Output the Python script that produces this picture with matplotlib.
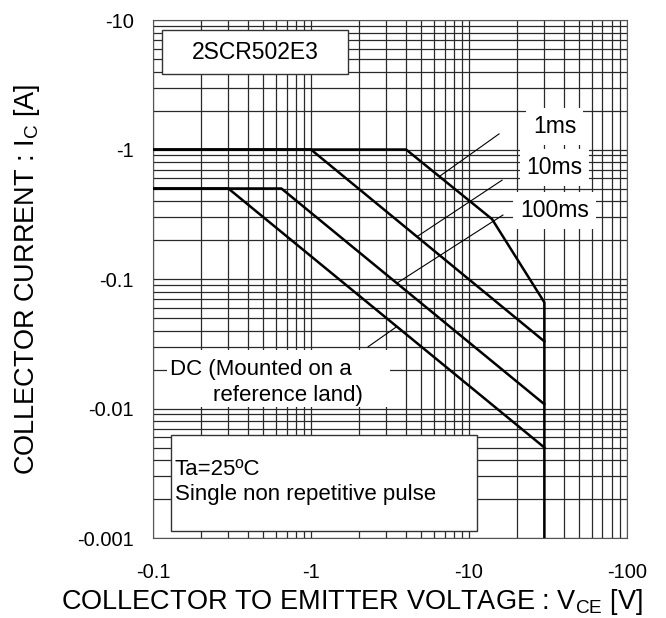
import matplotlib
matplotlib.use("Agg")
import matplotlib.pyplot as plt
from matplotlib.patches import Rectangle
from matplotlib.ticker import LogLocator, FuncFormatter, NullFormatter

plt.rcParams['font.family'] = ['Liberation Sans', 'DejaVu Sans']
plt.rcParams['mathtext.fontset'] = 'custom'
plt.rcParams['mathtext.rm'] = 'Liberation Sans'
plt.rcParams['mathtext.it'] = 'Liberation Sans'

# safe operating area curves (magnitudes, V and A)
v_1ms = [0.1, 4.0, 14.0, 30.0, 30.0]
i_1ms = [1.0, 1.0, 0.29, 0.066, 0.001]
v_10ms = [0.1, 1.0, 30.0]
i_10ms = [1.0, 1.0, 0.033]
v_100ms = [0.1, 0.65, 30.0]
i_100ms = [0.5, 0.5, 0.0108]
v_dc = [0.1, 0.3, 30.0]
i_dc = [0.5, 0.5, 0.005]

# leader lines: label end -> curve end
lead_1ms = ([15.5, 6.5], [1.32, 0.62])
lead_10ms = ([16.2, 4.7], [0.58, 0.213])
lead_100ms = ([16.4, 3.5], [0.312, 0.093])
lead_dc = ([2.3, 3.5], [0.030, 0.043])

fig = plt.figure(figsize=(6.66, 6.18), dpi=100)
ax = fig.add_axes([0.2297, 0.1294, 0.7117, 0.8382])
ax.set_xscale('log')
ax.set_yscale('log')
ax.set_xlim(0.1, 100)
ax.set_ylim(0.001, 10)

ax.xaxis.set_major_locator(LogLocator(base=10))
ax.yaxis.set_major_locator(LogLocator(base=10))
ax.xaxis.set_minor_locator(LogLocator(base=10, subs=range(2, 10)))
ax.yaxis.set_minor_locator(LogLocator(base=10, subs=range(2, 10)))
neg = FuncFormatter(lambda v, p: "-%g" % v)
ax.xaxis.set_major_formatter(neg)
ax.yaxis.set_major_formatter(neg)
ax.xaxis.set_minor_formatter(NullFormatter())
ax.yaxis.set_minor_formatter(NullFormatter())

ax.set_axisbelow(True)
ax.grid(True, which='both', color='#2a2a2a', lw=0.9)
ax.tick_params(which='both', length=0, labelsize=14.5)
ax.tick_params(axis='x', pad=18)
ax.tick_params(axis='y', pad=14)
for s in ax.spines.values():
    s.set_color('#555555')
    s.set_linewidth(0.8)

for v, i in [(v_1ms, i_1ms), (v_10ms, i_10ms), (v_100ms, i_100ms), (v_dc, i_dc)]:
    ax.plot(v, i, color='black', lw=1.8, zorder=3)

for lx, ly in [lead_1ms, lead_10ms, lead_100ms, lead_dc]:
    ax.plot(lx, ly, color='black', lw=0.8, zorder=3)

# boxes
ax.add_patch(Rectangle((0.019, 0.896), 0.392, 0.085, transform=ax.transAxes,
                       fc='white', ec='#333333', lw=1.0, zorder=4))
ax.text(0.215, 0.938, "2SCR502E3", transform=ax.transAxes, ha='center',
        va='center', fontsize=16.5, zorder=5)

ax.add_patch(Rectangle((0.038, 0.0135), 0.646, 0.1855, transform=ax.transAxes,
                       fc='white', ec='#333333', lw=1.0, zorder=4))
ax.text(0.046, 0.108, "Ta=25ºC\nSingle non repetitive pulse", transform=ax.transAxes,
        ha='left', va='center', fontsize=16, linespacing=1.25, zorder=5)

ax.add_patch(Rectangle((0.030, 0.253), 0.47, 0.11, transform=ax.transAxes,
                       fc='white', ec='none', zorder=1.5))
ax.text(0.036, 0.326, "DC (Mounted on a", transform=ax.transAxes,
        ha='left', va='center', fontsize=16, zorder=5)
ax.text(0.127, 0.276, "reference land)", transform=ax.transAxes,
        ha='left', va='center', fontsize=16, zorder=5)

for lab, yy in [("1ms", 0.795), ("10ms", 0.716), ("100ms", 0.633)]:
    ax.text(0.847, yy, lab, transform=ax.transAxes, ha='center', va='center',
            fontsize=16.5, zorder=5,
            bbox=dict(fc='white', ec='none', pad=5))

ax.set_xlabel(r"COLLECTOR TO EMITTER VOLTAGE : V$_{\mathregular{CE}}$ [V]",
              fontsize=19.5)
ax.set_ylabel(r"COLLECTOR CURRENT : I$_{\mathregular{C}}$ [A]",
              fontsize=19.5)
ax.xaxis.set_label_coords(0.42, -0.095)
ax.yaxis.set_label_coords(-0.235, 0.5)

fig.savefig("out.png", dpi=100)
